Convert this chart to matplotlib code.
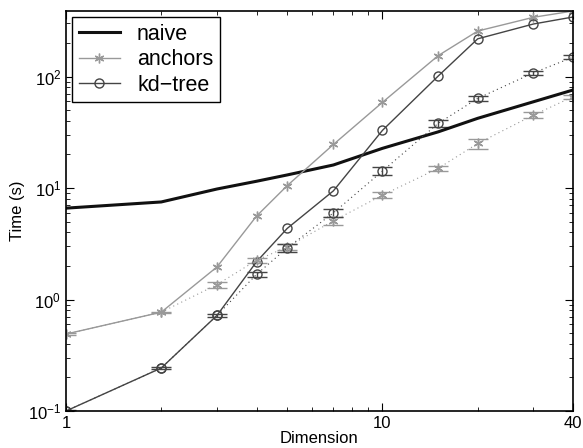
import numpy as np
import matplotlib
matplotlib.use("Agg")
import matplotlib.pyplot as plt
from matplotlib.ticker import LogLocator, NullFormatter, FixedLocator, FixedFormatter

plt.rcParams['font.family'] = ['Liberation Sans', 'DejaVu Sans']
plt.rcParams['mathtext.fontset'] = 'custom'
plt.rcParams['mathtext.rm'] = 'Liberation Sans'
plt.rcParams['mathtext.it'] = 'Liberation Sans'

# Dimensions sampled
dims = [1, 2, 3, 4, 5, 7, 10, 15, 20, 30, 40]

# Solid series
naive = [6.6, 7.5, 9.8, 11.5, 13.1, 16.1, 22.7, 31.9, 42.2, 59.4, 75.7]
anchors = [0.49, 0.77, 1.96, 5.6, 10.5, 24.6, 58.7, 154, 256, 340, 387]
kdtree = [0.1, 0.243, 0.72, 2.18, 4.34, 9.44, 32.9, 101, 218, 296, 342]

# Dotted series with error bars
anchors_dot = [0.49, 0.77, 1.36, 2.25, 2.96, 5.08, 8.63, 15.0, 25.1, 45.1, 65.9]
anchors_err = [0.01, 0.01, 0.09, 0.12, 0.2, 0.45, 0.5, 0.8, 2.5, 2.5, 3.0]
kdtree_dot = [0.1, 0.243, 0.72, 1.68, 2.9, 5.99, 14.2, 38.0, 63.7, 108, 149]
kdtree_err = [0.003, 0.005, 0.02, 0.08, 0.25, 0.5, 1.2, 3.0, 3.5, 5.0, 6.0]

c_naive = '#111111'
c_anch = '#999999'
c_kd = '#444444'
dotted = (0, (1, 3))

fig = plt.figure(figsize=(5.83, 4.48), dpi=100)
ax = fig.add_axes([0.1132, 0.0826, 0.8696, 0.8928])

ax.errorbar(dims, anchors_dot, yerr=anchors_err, color=c_anch, linestyle=dotted,
            linewidth=0.8, marker=(6, 2, 0), markersize=7, capsize=7, elinewidth=1)
ax.errorbar(dims, kdtree_dot, yerr=kdtree_err, color=c_kd, linestyle=dotted,
            linewidth=0.8, marker='o', markersize=6.5, markerfacecolor='none',
            capsize=7, elinewidth=1)

ax.plot(dims, naive, color=c_naive, linewidth=2.2, label='naive')
ax.plot(dims, anchors, color=c_anch, linewidth=1, marker=(6, 2, 0),
        markersize=7, label='anchors')
ax.plot(dims, kdtree, color=c_kd, linewidth=1, marker='o', markersize=6.5,
        markerfacecolor='none', label='kd\u2212tree')

ax.set_xscale('log')
ax.set_yscale('log')
ax.set_xlim(1, 40)
ax.set_ylim(0.1, max(anchors))

ax.xaxis.set_major_locator(FixedLocator([1, 10, 40]))
ax.xaxis.set_major_formatter(FixedFormatter(['1', '10', '40']))
ax.xaxis.set_minor_locator(FixedLocator([2, 3, 4, 5, 6, 7, 8, 9, 20, 30]))
ax.xaxis.set_minor_formatter(NullFormatter())
ax.yaxis.set_major_locator(LogLocator(base=10, numticks=10))
ax.yaxis.set_minor_locator(LogLocator(base=10, subs=np.arange(2, 10), numticks=10))
ax.yaxis.set_minor_formatter(NullFormatter())

ax.tick_params(which='both', direction='in', top=True, right=True, labelsize=12,
               colors='black')
ax.tick_params(which='major', length=6, width=0.8)
ax.tick_params(which='minor', length=3, width=0.6)
for s in ax.spines.values():
    s.set_linewidth(1.2)

ax.set_xlabel('Dimension', fontsize=12, labelpad=0)
ax.set_ylabel('Time (s)', fontsize=12, labelpad=2)

leg = ax.legend(loc='upper left', fontsize=15.5, frameon=True, fancybox=False,
                edgecolor='black', framealpha=1, borderaxespad=0.3,
                handlelength=1.9, labelspacing=0.2, borderpad=0.3,
                handletextpad=0.8)
leg.get_frame().set_linewidth(1.0)

fig.savefig('out.png', dpi=100)
